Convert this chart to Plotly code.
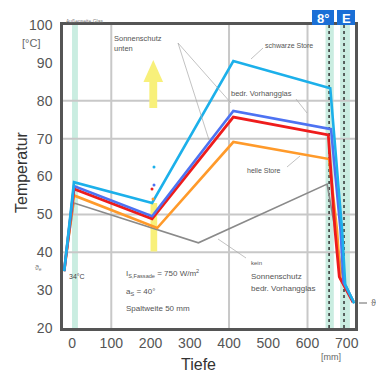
import plotly.graph_objects as go

# ---- data ----
x_schwarz = [-20, 5, 204, 411, 658, 688, 696, 719]
t_schwarz = [35, 58.5, 53.0, 90.5, 83.3, 46.0, 31.5, 26.5]
x_vorhang = [-20, 5, 204, 411, 660, 684, 692, 717]
t_vorhang = [35, 57.5, 49.5, 77.3, 72.5, 46.0, 32.0, 27.0]
x_rot = [-20, 5, 204, 411, 653, 670, 681, 716]
t_rot = [35, 56.7, 48.8, 75.7, 71.0, 46.0, 33.5, 26.8]
x_helle = [-20, 5, 217, 411, 655, 675, 684, 717]
t_helle = [35, 55.0, 46.4, 69.1, 64.6, 46.0, 33.0, 27.0]
x_kein = [-20, 5, 322, 650, 672, 690, 718]
t_kein = [35, 53.0, 42.5, 58.0, 45.0, 33.0, 27.0]

x_ticks = [0, 100, 200, 300, 400, 500, 600, 700]
y_ticks = [20, 30, 40, 50, 60, 70, 80, 90, 100]
y_grid = [40, 50, 70, 80]
x_grid = [100, 400, 600]

W, H = 376, 375
L, R, T, B = 63, 21, 25, 47
X0, X1 = -23, 721
Y0, Y1 = 20, 100


def pxx(p):  # pixel x -> data x
    return X0 + (p - L) / (W - L - R) * (X1 - X0)


def pxy(p):  # pixel y -> data y
    return Y1 - (p - T) / (H - T - B) * (Y1 - Y0)


def paper_x(p):
    return (p - L) / (W - L - R)


def paper_y(p):
    return (H - B - p) / (H - T - B)


fig = go.Figure()
series = [
    (x_kein, t_kein, "#8a8a8a", 1.6, "kein Sonnenschutz"),
    (x_helle, t_helle, "#ff9a2a", 2.6, "helle Store"),
    (x_rot, t_rot, "#ee1c1c", 2.8, "rot"),
    (x_vorhang, t_vorhang, "#4d72f2", 2.6, "bedr. Vorhangglas"),
    (x_schwarz, t_schwarz, "#1cb0ea", 2.6, "schwarze Store"),
]
for xs, ys, c, w, n in series:
    fig.add_trace(go.Scatter(x=xs, y=ys, mode="lines", name=n,
                             line=dict(color=c, width=w), showlegend=False))

shapes = []
green = "rgba(150,220,195,0.5)"
# green bands
for a, b in [(0, 15), (646, 667), (683, 708)]:
    shapes.append(dict(type="rect", xref="x", yref="y", x0=a, x1=b, y0=Y0, y1=Y1,
                       fillcolor=green, line=dict(width=0), layer="below"))
# gridlines
for g in y_grid:
    shapes.append(dict(type="line", xref="x", yref="y", x0=X0, x1=X1, y0=g, y1=g,
                       line=dict(color="#c8c8c8", width=2), layer="below"))
for g in x_grid:
    shapes.append(dict(type="line", xref="x", yref="y", x0=g, x1=g, y0=Y0, y1=Y1,
                       line=dict(color="#c8c8c8", width=2), layer="below"))
# dotted lines
for g in [655, 693]:
    shapes.append(dict(type="line", xref="x", yref="y", x0=g, x1=g, y0=Y0, y1=Y1,
                       line=dict(color="#333", width=1.5, dash="dot"), layer="below"))
# yellow band
shapes.append(dict(type="rect", xref="x", yref="y", x0=200, x1=217, y0=40.2, y1=53,
                   fillcolor="#f8f07a", line=dict(width=0), layer="below"))
# yellow arrow
ax = 207
tip, base, bot = pxy(60), pxy(82), pxy(108)
hw, sw = 25, 10
path = (f"M {ax-sw},{bot} L {ax-sw},{base} L {ax-hw},{base} L {ax},{tip} "
        f"L {ax+hw},{base} L {ax+sw},{base} L {ax+sw},{bot} Z")
shapes.append(dict(type="path", xref="x", yref="y", path=path,
                   fillcolor="#f8f07a", line=dict(width=0), layer="below"))
# leader lines (pixel coords converted)
leaders = [((178, 43), (209, 140)), ((178, 43), (231, 103)),
           ((263, 48), (251, 59)), ((296, 99), (307, 113)),
           ((287, 167), (300, 156)), ((246, 258), (218, 239)),
           ((44, 268), (58, 276))]
for (a, b), (c, d) in leaders:
    shapes.append(dict(type="line", xref="x", yref="y", x0=pxx(a), y0=pxy(b),
                       x1=pxx(c), y1=pxy(d), line=dict(color="#a8a8a8", width=0.7)))
# right-edge small mark
shapes.append(dict(type="line", xref="paper", yref="paper", x0=paper_x(359), x1=paper_x(367),
                   y0=paper_y(303), y1=paper_y(303), line=dict(color="#666", width=1)))
# logo boxes
shapes.append(dict(type="rect", xref="paper", yref="paper", x0=paper_x(312), x1=paper_x(334),
                   y0=paper_y(25), y1=paper_y(10), fillcolor="#1a6fd6", line=dict(width=0)))
shapes.append(dict(type="rect", xref="paper", yref="paper", x0=paper_x(337), x1=paper_x(355),
                   y0=paper_y(25), y1=paper_y(10), fillcolor="#1a6fd6", line=dict(width=0)))
# small marks near x=200
for (p, q, c) in [(154, 167, "#1cb0ea"), (154, 185, "#4d72f2"), (152, 189, "#ee1c1c"), (153, 199, "#ff9a2a")]:
    shapes.append(dict(type="circle", xref="x", yref="y", x0=pxx(p - 1.5), x1=pxx(p + 1.5),
                       y0=pxy(q + 1.5), y1=pxy(q - 1.5), fillcolor=c, line=dict(width=0)))

FONT = "Liberation Sans, Arial, sans-serif"
ann = []


def text(t, x, y, size=8, color="#444", xa="left", ya="middle", **kw):
    ann.append(dict(text=t, xref="paper", yref="paper", x=paper_x(x), y=paper_y(y),
                    xanchor=xa, yanchor=ya, showarrow=False,
                    font=dict(size=size, color=color, family=FONT), **kw))


text("Sonnenschutz<br>unten", 112, 44, 7.5, "#555", ya="middle", align="left")
text("schwarze Store", 263, 46, 7, "#555")
text("bedr. Vorhangglas", 229, 93, 7.5, "#555")
text("helle Store", 245, 170, 7, "#555")
text("kein", 249, 263, 6, "#555")
text("Sonnenschutz", 249, 276, 8, "#555")
text("bedr. Vorhangglas", 249, 288, 8, "#555")
text("I<sub>S,Fassade</sub> = 750 W/m<sup>2</sup>", 124, 273, 8, "#555")
text("a<sub>S</sub> = 40°", 124, 292, 8, "#555")
text("Spaltweite 50 mm", 124, 308, 8, "#555")
text("34°C", 67, 276, 7, "#444")
text("ϑ<sub>e</sub>", 44, 268, 7, "#777", xa="right")
text("Außenseite Glas", 64, 21, 5, "#777", ya="middle")
text("[°C]", 31, 43, 11, "#666", xa="center")
text("[mm]", 331, 357, 9, "#666", xa="center")
text("Temperatur", 21, 172, 16, "#333", xa="center", textangle=-90)
text("Tiefe", 198, 364, 16, "#333", xa="center")
text("<b>8°</b>", 323, 18, 13, "white", xa="center")
text("<b>E</b>", 346, 18, 13, "white", xa="center")
text("ϑ", 369, 303, 9, "#666")

fig.update_layout(
    width=W, height=H,
    margin=dict(l=L, r=R, t=T, b=B, pad=0),
    paper_bgcolor="white", plot_bgcolor="white",
    shapes=shapes, annotations=ann, showlegend=False,
    font=dict(family=FONT),
    xaxis=dict(range=[X0, X1], tickvals=x_ticks, showgrid=False, zeroline=False,
               showline=True, linecolor="#555", linewidth=2.5, mirror=True,
               ticks="", tickfont=dict(size=14, color="#555"), ticklabelstandoff=0),
    yaxis=dict(range=[Y0, Y1], tickvals=y_ticks, showgrid=False, zeroline=False,
               showline=True, linecolor="#555", linewidth=2.5, mirror=True,
               ticks="", tickfont=dict(size=14, color="#555"), ticklabelstandoff=5),
)
fig.write_html("out.html", config={"displayModeBar": False},
               post_script="document.body.style.margin='0';document.body.style.padding='0';")
